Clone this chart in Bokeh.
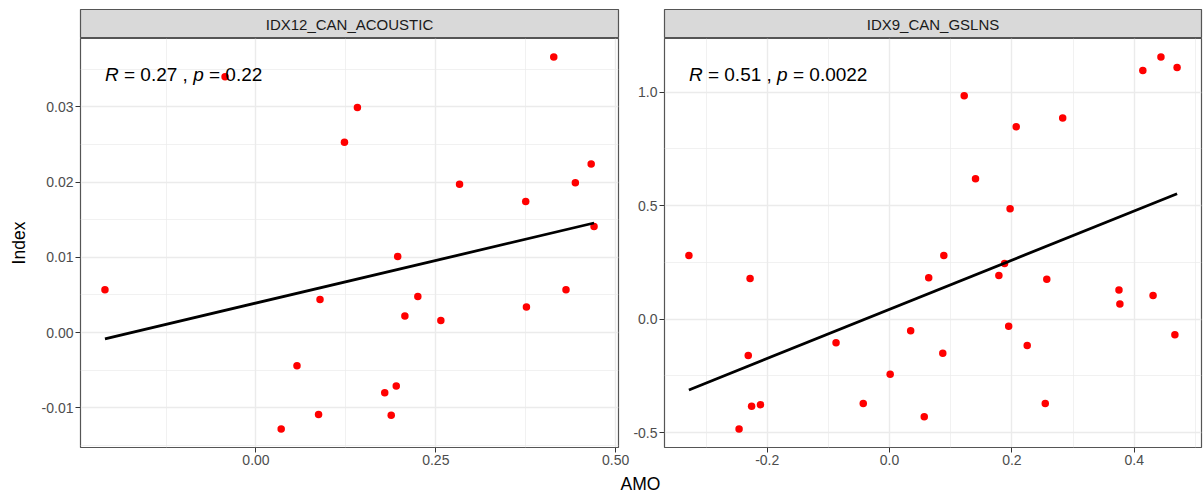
import numpy as np
from bokeh.plotting import figure
from bokeh.models import Range1d, FixedTicker, PrintfTickFormatter, Label
from bokeh.layouts import row, column
from bokeh.embed import file_html
from bokeh.resources import INLINE

# ---------------- data ----------------
panel_titles = ["IDX12_CAN_ACOUSTIC", "IDX9_CAN_GSLNS"]

amo_left = [-0.210, -0.043, 0.123, 0.141, 0.414, 0.283, 0.375, 0.444, 0.466, 0.470,
            0.197, 0.089, 0.225, 0.207, 0.257, 0.376, 0.431, 0.057, 0.179, 0.195,
            0.087, 0.188, 0.035]
index_left = [0.0057, 0.0340, 0.0253, 0.0299, 0.0366, 0.0197, 0.0174, 0.0199, 0.0224, 0.0141,
              0.0101, 0.0044, 0.0048, 0.0022, 0.0016, 0.0034, 0.0057, -0.0044, -0.0080, -0.0071,
              -0.0109, -0.0110, -0.0128]

amo_right = [-0.328, -0.228, -0.231, -0.246, -0.2255, -0.211, -0.0875, -0.043, 0.001, 0.0345,
             0.0567, 0.064, 0.087, 0.0887, 0.1787, 0.188, 0.1947, 0.225, 0.257, 0.2545,
             0.375, 0.3765, 0.4307, 0.4664, 0.122, 0.1405, 0.197, 0.207, 0.283, 0.414,
             0.4436, 0.470]
index_right = [0.280, 0.179, -0.160, -0.484, -0.384, -0.377, -0.104, -0.372, -0.243, -0.051,
               -0.430, 0.182, -0.151, 0.280, 0.192, 0.245, -0.032, -0.116, 0.176, -0.372,
               0.128, 0.067, 0.104, -0.069, 0.985, 0.619, 0.487, 0.848, 0.886, 1.096,
               1.155, 1.109]

cor_r = ["0.27", "0.51"]
cor_p = ["0.22", "0.0022"]

xticks_left = [0.0, 0.25, 0.5]
xminor_left = [-0.125, 0.125, 0.375]
yticks_left = [-0.01, 0.0, 0.01, 0.02, 0.03]
yminor_left = [-0.015, -0.005, 0.005, 0.015, 0.025, 0.035]

xticks_right = [-0.2, 0.0, 0.2, 0.4]
xminor_right = [-0.3, -0.1, 0.1, 0.3, 0.5]
yticks_right = [-0.5, 0.0, 0.5, 1.0]
yminor_right = [-0.25, 0.25, 0.75]

x_title = "AMO"
y_title = "Index"

# ---------------- styling ----------------
FONT = "Liberation Sans"
BORDER = "#555555"
GRID = "#EBEBEB"
ANN_SIZE = 19.0


def expand(vals):
    lo, hi = min(vals), max(vals)
    pad = (hi - lo) * 0.05
    return lo - pad, hi + pad


def make_panel(x, y, title, xt, xm, yt, ym, xfmt, yfmt, r_txt, p_txt,
               left_border, right_border, width, ylabel, transparent):
    # strip
    s = figure(width=width, height=38, x_range=Range1d(0, 1), y_range=Range1d(0, 1),
               x_axis_type=None, y_axis_type=None, toolbar_location=None, output_backend="svg",
               min_border_left=left_border, min_border_right=right_border,
               min_border_top=9, min_border_bottom=0)
    s.background_fill_color = "#D9D9D9"
    s.outline_line_color = BORDER
    s.outline_line_width = 1.2
    s.add_layout(Label(x=0.5, y=0.5, text=title, text_align="center", text_baseline="middle",
                       text_font=FONT, text_font_size="15px", text_color="#1A1A1A"))

    x0, x1 = expand(x)
    y0, y1 = expand(y)
    p = figure(width=width, height=435, x_range=Range1d(x0, x1), y_range=Range1d(y0, y1),
               toolbar_location=None, output_backend="svg",
               min_border_left=left_border, min_border_right=right_border,
               min_border_top=0, min_border_bottom=26)
    if transparent:
        for f in (s, p):
            f.border_fill_alpha = 0.0
    p.outline_line_color = BORDER
    p.outline_line_width = 1.2
    p.xaxis.ticker = FixedTicker(ticks=xt, minor_ticks=xm)
    p.yaxis.ticker = FixedTicker(ticks=yt, minor_ticks=ym)
    p.xaxis.formatter = PrintfTickFormatter(format=xfmt)
    p.yaxis.formatter = PrintfTickFormatter(format=yfmt)
    for ax in (p.xaxis[0], p.yaxis[0]):
        ax.axis_line_color = None
        ax.major_tick_line_color = "#333333"
        ax.major_tick_out = 5
        ax.major_tick_in = 0
        ax.minor_tick_line_color = None
        ax.major_label_text_font = FONT
        ax.major_label_text_font_size = "14px"
        ax.major_label_text_color = "#4D4D4D"
        ax.major_label_standoff = 2
    if ylabel:
        p.yaxis.axis_label = ylabel
        p.yaxis.axis_label_text_font = FONT
        p.yaxis.axis_label_text_font_size = "17.5px"
        p.yaxis.axis_label_text_font_style = "normal"
        p.yaxis.axis_label_text_color = "black"
        p.yaxis.axis_label_standoff = 10
    for g in (p.xgrid[0], p.ygrid[0]):
        g.grid_line_color = GRID
        g.grid_line_width = 1.4
        g.minor_grid_line_color = GRID
        g.minor_grid_line_width = 0.7

    p.scatter(x, y, size=7.5, fill_color="#FF0000", line_color=None)

    fit = np.polyfit(x, y, 1)
    xs = [min(x), max(x)]
    p.line(xs, list(np.polyval(fit, xs)), line_color="black", line_width=2.8)

    # "R = r , p = p" annotation with italic R and p
    adv = {"0": .556, "1": .556, "2": .556, "3": .556, "4": .556, "5": .556, "6": .556,
           "7": .556, "8": .556, "9": .556, ".": .278, ",": .278, " ": .278, "=": .584}
    mid = "= " + r_txt + " ,"
    p_off = 1.0 + sum(adv[c] for c in mid) + 0.278
    pieces = [("R", "italic", 0.0),
              (mid, "normal", 1.0),
              ("p", "italic", p_off),
              ("= " + p_txt, "normal", p_off + 0.556 + 0.278)]
    for txt, style, off in pieces:
        p.add_layout(Label(x=min(x), y=max(y), x_offset=off * ANN_SIZE, y_offset=-17.5,
                           text=txt, text_font=FONT, text_font_size=f"{ANN_SIZE}px",
                           text_font_style=style, text_color="black",
                           text_align="left", text_baseline="alphabetic"))
    return column(s, p)


left = make_panel(amo_left, index_left, panel_titles[0], xticks_left, xminor_left,
                  yticks_left, yminor_left, "%.2f", "%.2f", cor_r[0], cor_p[0],
                  80, 22, 640, y_title, False)
right = make_panel(amo_right, index_right, panel_titles[1], xticks_right, xminor_right,
                   yticks_right, yminor_right, "%.1f", "%.1f", cor_r[1], cor_p[1],
                   44, 2, 583, None, True)
right.styles = {"margin-left": "-20px"}

bottom = figure(width=1203, height=24, x_range=Range1d(0, 1203), y_range=Range1d(0, 24),
                x_axis_type=None, y_axis_type=None, toolbar_location=None, output_backend="svg",
                min_border=0)
bottom.outline_line_color = None
bottom.add_layout(Label(x=640, y=14, text=x_title, text_align="center", text_baseline="middle",
                        text_font=FONT, text_font_size="17.5px", text_color="black"))

layout = column(row(left, right), bottom)

open("out.html", "w").write(file_html(layout, INLINE))
